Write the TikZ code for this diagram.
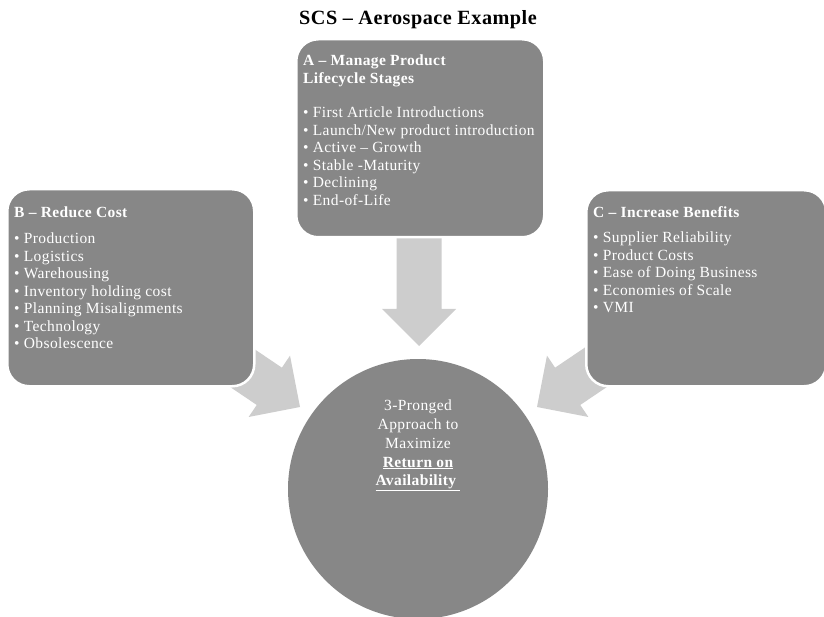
\documentclass[tikz,border=0pt]{standalone}
\usepackage{fontspec}
\setmainfont{Liberation Serif}[LetterSpace=2.5]
\definecolor{boxgray}{HTML}{878787}
\definecolor{arrowgray}{HTML}{CDCDCD}
\begin{document}
\begin{tikzpicture}[x=1pt,y=-1pt,
  panel/.style={draw=white, line width=2.5pt, fill=boxgray, rounded corners=22pt,
    inner sep=0pt, anchor=north west},
  headtext/.style={anchor=north west, inner sep=0pt, text=white, align=left,
    font=\fontsize{15.5}{17.5}\selectfont\bfseries},
  listtext/.style={anchor=north west, inner sep=0pt, text=white, align=left,
    font=\fontsize{15.5}{17.5}\selectfont},
  fatarrow/.style={fill=arrowgray, draw=none},
  hub/.style={circle, fill=boxgray, draw=none, minimum size=260pt, inner sep=0pt},
  hubtext/.style={inner sep=0pt, text=white, align=center, anchor=north,
    font=\fontsize{15.5}{18.7}\selectfont}]
\useasboundingbox (0,0) rectangle (824,617);

% block arrows (tip at the local origin, pointing along +x)
\foreach \tipx/\tipy/\ang in {419/346/-90, 300/407/-34, 537/407/-146}{
  \begin{scope}[shift={(\tipx,\tipy)}, rotate=\ang]
    \fill[fatarrow] (0,0) -- (-37,37) -- (-37,22.5) -- (-108,22.5)
      -- (-108,-22.5) -- (-37,-22.5) -- (-37,-37) -- cycle;
  \end{scope}
}

% title
\node[anchor=base, inner sep=0pt, font=\fontsize{20.2}{24}\selectfont\bfseries]
  (title) at (418,25) {SCS – Aerospace Example};

% panel A
\node[panel, minimum width=248pt, minimum height=198pt] (boxA) at (295,38) {};
\node[headtext] (headA) at (303,55) {A – Manage Product\\Lifecycle Stages};
\node[listtext] (listA) at (303,107) {• First Article Introductions\\
  • Launch/New product introduction\\• Active – Growth\\• Stable -Maturity\\
  • Declining\\• End-of-Life};

% panel B
\node[panel, minimum width=247pt, minimum height=197pt] (boxB) at (6,188) {};
\node[headtext] (headB) at (14,207) {B – Reduce Cost};
\node[listtext] (listB) at (14,233) {• Production\\• Logistics\\• Warehousing\\
  • Inventory holding cost\\• Planning Misalignments\\• Technology\\• Obsolescence};

% panel C
\node[panel, minimum width=240pt, minimum height=196pt] (boxC) at (585,189) {};
\node[headtext] (headC) at (593,206) {C – Increase Benefits};
\node[listtext] (listC) at (593,232) {• Supplier Reliability\\• Product Costs\\
  • Ease of Doing Business\\• Economies of Scale\\• VMI};

% central hub
\node[hub] (hub) at (418,489) {};
\node[hubtext] (hubtext) at (418,400) {3-Pronged\\Approach to\\Maximize\\
  \textbf{\underline{Return on}}\\\textbf{\underline{Availability\ }}};
\end{tikzpicture}
\end{document}
